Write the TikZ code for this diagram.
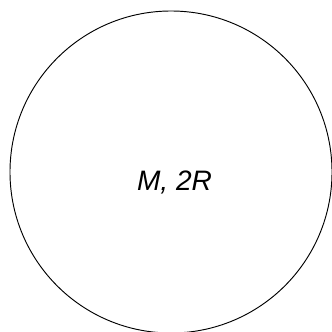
\documentclass[tikz,border=0pt]{standalone}
\usepackage{fontspec}
\setmainfont{Liberation Sans}
\usetikzlibrary{positioning}
\tikzset{
	bodycircle/.style={draw, circle, line width=0.8pt, inner sep=0pt, minimum size=9.66cm}
}
\tikzset{
	bodytext/.style={font=\fontsize{24}{28}\selectfont\itshape, inner sep=0pt, anchor=base}
}
\begin{document}
\begin{tikzpicture}[x=0.03cm, y=-0.03cm]

			\useasboundingbox (0,0) rectangle (332,332);

			\node[bodycircle] (body) at (171,172) {};
			\node[bodytext] (mass) at (174.5,190) {M, 2R};

		\end{tikzpicture}
\end{document}
